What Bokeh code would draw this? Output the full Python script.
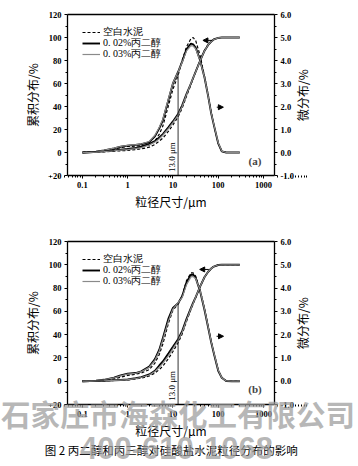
import math
from bokeh.plotting import figure
from bokeh.models import (Range1d, LinearAxis, LogAxis, Label, FixedTicker, Arrow, NormalHead,
                          Legend, LegendItem, NumeralTickFormatter)
from bokeh.layouts import column
from bokeh.embed import file_html
from bokeh.resources import INLINE

# ---------------- data ----------------
size_um = [0.1, 0.15, 0.2, 0.3, 0.5, 0.7, 1, 1.5, 2, 3,
           4, 5, 6, 8, 10, 13, 16, 20, 25, 28,
           32, 40, 50, 60, 70, 80, 100, 120, 150, 200, 300]

series_names = ["空白水泥", "0. 02%丙二醇", "0. 03%丙二醇"]

# panel (a): differential distribution (%), right axis
a_diff_blank = [0, 0.01, 0.03, 0.07, 0.15, 0.21, 0.26, 0.28, 0.29, 0.32,
                0.5, 0.8, 1.15, 2.05, 2.75, 3.35, 4.0, 4.6, 4.95, 5.0,
                4.85, 4.2, 3.3, 2.5, 1.75, 1.2, 0.4, 0.05, 0, 0, 0]
a_diff_02 = [0, 0.015, 0.04, 0.09, 0.18, 0.25, 0.3, 0.33, 0.36, 0.45,
             0.7, 1.05, 1.4, 2.3, 3.0, 3.5, 3.95, 4.5, 4.73, 4.7,
             4.55, 4.0, 3.25, 2.45, 1.7, 1.2, 0.4, 0.05, 0, 0, 0]
a_diff_03 = [0, 0.016, 0.042, 0.095, 0.19, 0.26, 0.31, 0.34, 0.37, 0.48,
             0.75, 1.1, 1.45, 2.35, 3.02, 3.5, 3.92, 4.42, 4.65, 4.63,
             4.5, 3.98, 3.25, 2.45, 1.72, 1.22, 0.42, 0.06, 0, 0, 0]
# panel (a): cumulative distribution (%), left axis
a_cum_blank = [0, 0.1, 0.3, 0.6, 1.1, 1.5, 1.8, 2.5, 3.2, 4.6,
               7, 10, 12.5, 18.5, 24, 31, 38.5, 49, 59, 64.5,
               70.5, 80.5, 89, 94, 96.8, 98.4, 99.7, 100, 100, 100, 100]
a_cum_02 = [0, 0.2, 0.5, 1, 1.8, 2.4, 3, 4, 5, 7.5,
            10, 13, 16, 22, 27, 33.5, 41, 51, 60, 65,
            70.5, 80, 88.5, 93.5, 96.5, 98.3, 99.7, 100, 100, 100, 100]
a_cum_03 = [0, 0.15, 0.4, 0.8, 1.5, 2, 2.5, 3.4, 4.3, 6.5,
            9, 12, 15, 21, 26, 32.5, 40, 50.5, 60, 65,
            70.5, 80, 88.5, 93.5, 96.6, 98.3, 99.7, 100, 100, 100, 100]

# panel (b)
b_diff_blank = [0, 0.005, 0.015, 0.04, 0.1, 0.175, 0.25, 0.3, 0.35, 0.5,
                0.775, 1.15, 1.6, 2.5, 3.05, 3.3, 3.675, 4.325, 4.65, 4.65,
                4.5, 3.9, 3.1, 2.35, 1.7, 1.225, 0.475, 0.15, 0.01, 0, 0]
b_diff_02 = [0, 0.01, 0.025, 0.06, 0.15, 0.25, 0.325, 0.35, 0.425, 0.625,
             0.95, 1.35, 1.85, 2.7, 3.15, 3.35, 3.65, 4.25, 4.575, 4.575,
             4.425, 3.85, 3.05, 2.3, 1.675, 1.2, 0.45, 0.15, 0.01, 0, 0]
b_diff_03 = [0, 0.01, 0.025, 0.055, 0.14, 0.23, 0.31, 0.34, 0.41, 0.6,
             0.9, 1.3, 1.78, 2.6, 3.1, 3.38, 3.6, 4.15, 4.48, 4.5,
             4.4, 3.88, 3.08, 2.33, 1.7, 1.23, 0.48, 0.15, 0.01, 0, 0]
b_cum_blank = [0, 0.05, 0.1, 0.3, 0.6, 0.8, 1.2, 1.9, 2.7, 4.5,
               7, 10, 13, 19.5, 25.5, 33, 40.5, 51.5, 61.5, 66.5,
               72, 81.5, 89.5, 94, 96.8, 98.5, 99.8, 100, 100, 100, 100]
b_cum_02 = [0, 0.1, 0.2, 0.4, 0.8, 1.1, 1.5, 2.5, 3.5, 5.8,
            9, 13.5, 17, 24, 29.5, 36, 43, 53.5, 63, 67.5,
            72.5, 81.5, 89.5, 94, 96.8, 98.5, 99.8, 100, 100, 100, 100]
b_cum_03 = [0, 0.1, 0.2, 0.4, 0.7, 1, 1.4, 2.3, 3.2, 5.3,
            8.3, 12, 15.5, 22, 28, 35, 42, 52.5, 62.5, 67,
            72.5, 81.5, 89.5, 94, 96.8, 98.5, 99.8, 100, 100, 100, 100]

marker_um = 13.0
marker_top_a = 70
marker_top_b = 67

x_ticks = [0.1, 1, 10, 100, 1000]
x_tick_labels = ["0.1", "1", "10", "100", "1000"]
x_lim = (0.047, 1750)
left_lim = (-20, 120)
right_lim = (-1, 6)
left_ticks = [-20, 0, 20, 40, 60, 80, 100, 120]
right_ticks = [-1, 0, 1, 2, 3, 4, 5, 6]

SERIF = "Liberation Serif"
CJK = "Noto Sans CJK SC"
W = 358

styles = [dict(color="black", line_width=1.2, line_dash="3 2"),
          dict(color="black", line_width=1.9),
          dict(color="#8a8a8a", line_width=1.2)]


def minor_log_ticks():
    out = []
    for e in range(-2, 4):
        for m in range(2, 10):
            out.append(round(m * 10.0 ** e, 6))
    return out


def style_axis(ax):
    ax.axis_line_color = "black"
    ax.axis_line_width = 1.3
    ax.major_tick_line_color = "black"
    ax.minor_tick_line_color = "black"
    ax.major_tick_in = 0
    ax.major_tick_out = 3
    ax.minor_tick_in = 0
    ax.minor_tick_out = 2
    ax.major_label_text_font = SERIF
    ax.major_label_text_font_style = "bold"
    ax.major_label_text_font_size = "8.5px"
    ax.major_label_text_color = "black"
    ax.major_label_standoff = 3
    ax.axis_label_text_font = CJK
    ax.axis_label_text_font_style = "normal"
    ax.axis_label_text_font_size = "12px"
    ax.axis_label_text_color = "black"
    ax.axis_label_standoff = 4


def make_panel(diffs, cums, tag, marker_top, H, box, arrows, legend_rows):
    # box = pixel box (left, right, top, bottom) of the axes rectangle in this canvas
    lx, rx, ty, by = box
    dec = (rx - lx) / math.log10(x_lim[1] / x_lim[0])
    xs = x_lim[0] / 10 ** (lx / dec)
    xe = x_lim[1] * 10 ** ((W - rx) / dec)
    upp = (left_lim[1] - left_lim[0]) / (by - ty)
    ys = left_lim[0] - (H - by) * upp
    ye = left_lim[1] + ty * upp
    k = (right_lim[1] - right_lim[0]) / (left_lim[1] - left_lim[0])

    p = figure(width=W, height=H, x_axis_type="log",
               x_range=Range1d(xs, xe), y_range=Range1d(ys, ye),
               output_backend="svg", toolbar_location=None,
               min_border=0, min_border_left=0, min_border_right=0,
               min_border_top=0, min_border_bottom=0)
    p.extra_y_ranges = {"diff": Range1d(right_lim[0] + (ys - left_lim[0]) * k,
                                        right_lim[0] + (ye - left_lim[0]) * k)}
    p.xgrid.visible = False
    p.ygrid.visible = False
    p.outline_line_color = None
    p.background_fill_color = "white"
    p.border_fill_color = "white"

    xa = p.xaxis[0]
    xa.fixed_location = left_lim[0]
    xa.bounds = x_lim
    xa.ticker = FixedTicker(ticks=x_ticks, minor_ticks=minor_log_ticks())
    xa.major_label_overrides = {t: l for t, l in zip(x_ticks, x_tick_labels)}
    xa.axis_label = "粒径尺寸/μm"
    style_axis(xa)
    xa.axis_label_standoff = 2

    ya = p.yaxis[0]
    ya.fixed_location = x_lim[0]
    ya.bounds = left_lim
    ya.ticker = FixedTicker(ticks=left_ticks,
                            minor_ticks=[v + 10 for v in left_ticks[:-1]])
    ya.axis_label = "累积分布/%"
    style_axis(ya)

    ra = LinearAxis(y_range_name="diff", fixed_location=x_lim[1], bounds=right_lim)
    ra.ticker = FixedTicker(ticks=right_ticks,
                            minor_ticks=[v + 0.5 for v in right_ticks[:-1]])
    ra.formatter = NumeralTickFormatter(format="0.0")
    style_axis(ra)
    p.add_layout(ra, "right")

    ta = LogAxis(fixed_location=left_lim[1], bounds=x_lim, ticker=FixedTicker(ticks=[]))
    style_axis(ta)
    ta.major_label_text_font_size = "0px"
    ta.major_tick_line_color = None
    ta.minor_tick_line_color = None
    p.add_layout(ta, "above")

    renderers = []
    for d, st in zip(diffs, styles):
        renderers.append(p.line(size_um, d, y_range_name="diff", **st))
    for c, st in zip(cums, styles):
        p.line(size_um, c, **st)

    p.segment(x0=[marker_um], y0=[left_lim[0]], x1=[marker_um], y1=[marker_top],
              color="#333333", line_width=1)
    p.add_layout(Label(x=marker_um, y=-4, text="13.0 μm", angle=math.pi / 2,
                       text_align="center", text_baseline="bottom", x_offset=-1,
                       text_font=SERIF, text_font_size="9px", text_color="black"))
    p.add_layout(Label(x=650, y=-7, text=tag, text_align="center",
                       text_baseline="middle", text_font=SERIF,
                       text_font_style="bold", text_font_size="11px"))

    for (x0, x1, y) in arrows:
        p.add_layout(Arrow(end=NormalHead(size=5, fill_color="black", line_color="black"),
                           x_start=x0, y_start=y, x_end=x1, y_end=y,
                           line_color="black", line_width=1))

    # right-axis title, reading bottom to top
    p.add_layout(Label(x=302, y=H - (ty + by) / 2, x_units="screen", y_units="screen",
                       text="微分布/%", angle=math.pi / 2, text_align="center",
                       text_baseline="middle", text_font=CJK, text_font_size="12px",
                       text_color="black"))

    # one legend per row so the row pitch matches the reference
    row_h = 15
    for n, r, cy in zip(series_names, renderers, legend_rows):
        leg = Legend(items=[LegendItem(label=n, renderers=[r])],
                     location=(82, H - cy - row_h / 2),
                     border_line_color=None, background_fill_alpha=0,
                     padding=0, margin=0, spacing=0,
                     label_height=10, glyph_height=10, glyph_width=18, label_standoff=3,
                     label_text_font=SERIF, label_text_font_size="10px",
                     label_text_color="black")
        p.add_layout(leg)
    return p


HA, HB = 213, 253
pa = make_panel([a_diff_blank, a_diff_02, a_diff_03],
                [a_cum_blank, a_cum_02, a_cum_03], "(a)", marker_top_a,
                HA, (67, 274, 14, 175), [(74, 46, 97.5), (93, 130, 39.4)],
                (31.5, 42.5, 53.2))
pb = make_panel([b_diff_blank, b_diff_02, b_diff_03],
                [b_cum_blank, b_cum_02, b_cum_03], "(b)", marker_top_b,
                HB, (67, 274, 28, 191), [(62, 39, 96), (92, 131, 38.6)],
                (45, 56, 67))

pb.add_layout(Label(x=172, y=17, x_units="screen", y_units="screen",
                    text="图 2  丙二醇和丙三醇对硅酸盐水泥粒径分布的影响",
                    text_align="center", text_baseline="middle",
                    text_font=CJK, text_font_size="11.5px", text_color="black"))
pb.add_layout(Label(x=177.5, y=54, x_units="screen", y_units="screen",
                    text="石家庄市海森化工有限公司", text_align="center",
                    text_baseline="middle", text_font=CJK, text_font_size="29.5px",
                    text_font_style="bold", text_color="#9c9c9c", text_alpha=0.72))
pb.add_layout(Label(x=176, y=19, x_units="screen", y_units="screen",
                    text="400-610-1068", text_align="center",
                    text_baseline="middle", text_font="Liberation Sans",
                    text_font_size="31px", text_font_style="bold",
                    text_color="#9c9c9c", text_alpha=0.72))

layout = column(pa, pb, spacing=0)
open("out.html", "w").write(file_html(layout, INLINE))
